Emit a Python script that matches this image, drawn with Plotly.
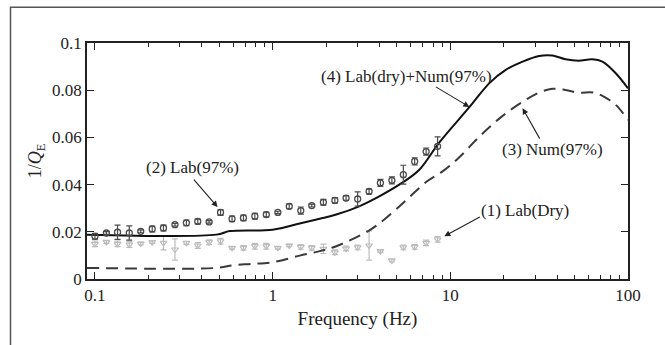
import plotly.graph_objects as go
import numpy as np

# ---- data ----
freq_lab = [0.100, 0.116, 0.134, 0.156, 0.181, 0.210, 0.243, 0.282, 0.327, 0.379,
            0.439, 0.509, 0.591, 0.685, 0.794, 0.921, 1.07, 1.24, 1.44, 1.66,
            1.93, 2.24, 2.59, 3.01, 3.49, 4.04, 4.69, 5.44, 6.30, 7.31, 8.48]

lab97 = [0.0181, 0.0195, 0.0198, 0.0195, 0.0202, 0.0212, 0.0216, 0.0230, 0.0238, 0.0244,
         0.0242, 0.0282, 0.0255, 0.0259, 0.0266, 0.0273, 0.0282, 0.0308, 0.0290, 0.0311,
         0.0325, 0.0333, 0.0343, 0.0339, 0.0371, 0.0407, 0.0418, 0.0442, 0.0498, 0.0540, 0.0562]
lab97_err = [0.0012, 0.0006, 0.0030, 0.0030, 0.0006, 0.0012, 0.0012, 0.0006, 0.0012, 0.0010,
             0.0005, 0.0012, 0.0012, 0.0012, 0.0012, 0.0010, 0.0005, 0.0010, 0.0015, 0.0006,
             0.0012, 0.0012, 0.0010, 0.0030, 0.0010, 0.0015, 0.0015, 0.0040, 0.0015, 0.0015, 0.0040]

lab_dry = [0.0149, 0.0157, 0.0149, 0.0146, 0.0150, 0.0156, 0.0153, 0.0125, 0.0153, 0.0142,
           0.0156, 0.0160, 0.0132, 0.0132, 0.0139, 0.0139, 0.0132, 0.0142, 0.0136, 0.0132,
           0.0128, 0.0113, 0.0129, 0.0134, 0.0142, 0.0118, 0.0078, 0.0134, 0.0136, 0.0153, 0.0168]
lab_dry_err = [0.0012, 0.0006, 0.0012, 0.0012, 0.0006, 0.0005, 0.0030, 0.0045, 0.0006, 0.0012,
               0.0010, 0.0012, 0.0005, 0.0010, 0.0012, 0.0012, 0.0005, 0.0005, 0.0010, 0.0010,
               0.0020, 0.0010, 0.0010, 0.0010, 0.0062, 0.0005, 0.0006, 0.0010, 0.0010, 0.0012, 0.0012]

freq_sum = [0.090, 0.483, 0.574, 1.00, 1.42, 1.84, 2.28, 3.07, 3.98, 5.34, 6.69,
            8.70, 12.8, 16.6, 20.5, 25.5, 31.6, 37.6, 44.5, 52.7, 62.9, 71.8, 85.3, 100.0]
lab_num = [0.0188, 0.0188, 0.0203, 0.0209, 0.0235, 0.0255, 0.0273, 0.0308, 0.0350, 0.0407,
           0.0463, 0.0580, 0.0728, 0.0830, 0.0886, 0.0921, 0.0945, 0.0947, 0.0931,
           0.0925, 0.0931, 0.0921, 0.0872, 0.0808]

freq_num = [0.090, 0.483, 0.600, 0.75, 1.00, 1.42, 1.84, 2.28, 3.43, 4.25, 5.68, 7.40,
            9.00, 11.2, 14.6, 19.3, 25.2, 31.6, 37.6, 44.5, 52.7, 64.0, 73.0, 85.3, 100.0]
num97 = [0.0047, 0.0047, 0.0058, 0.0064, 0.0071, 0.0099, 0.0118, 0.0139, 0.0202, 0.0252,
         0.0336, 0.0414, 0.0455, 0.0515, 0.0604, 0.0686, 0.0748, 0.0790, 0.0806, 0.0801,
         0.0790, 0.0790, 0.0773, 0.0738, 0.0674]

x_tick_vals = [0.1, 1, 10, 100]
x_tick_text = ["0.1", "1", "10", "100"]
y_tick_vals = [0, 0.02, 0.04, 0.06, 0.08, 0.1]
y_tick_text = ["0", "0.02", "0.04", "0.06", "0.08", "0.1"]

FONT = "Liberation Serif, Times New Roman, serif"

fig = go.Figure()

fig.add_trace(go.Scatter(
    x=freq_lab, y=lab_dry, mode="markers",
    marker=dict(symbol="triangle-down-open", size=6, color="#bdbdbd", line=dict(width=1.2)),
    error_y=dict(type="data", array=lab_dry_err, visible=True, color="#bdbdbd", thickness=1.2, width=3),
    showlegend=False))

fig.add_trace(go.Scatter(
    x=freq_num, y=num97, mode="lines", line_shape="spline",
    line=dict(color="#3a3a3a", width=2, dash="12px,7px"), showlegend=False))

fig.add_trace(go.Scatter(
    x=freq_sum, y=lab_num, mode="lines", line_shape="spline",
    line=dict(color="#111111", width=2), showlegend=False))

fig.add_trace(go.Scatter(
    x=freq_lab, y=lab97, mode="markers",
    marker=dict(symbol="circle-open", size=6, color="#4a4a4a", line=dict(width=1.3)),
    error_y=dict(type="data", array=lab97_err, visible=True, color="#4a4a4a", thickness=1.2, width=3),
    showlegend=False))

minor_vals = [m * d for d in (0.1, 1, 10) for m in range(2, 10)]

fig.update_xaxes(
    type="log", range=[np.log10(0.0902), np.log10(100)], automargin=False,
    tickvals=x_tick_vals, ticktext=x_tick_text,
    ticks="inside", ticklen=7, tickwidth=1.2, tickcolor="#222",
    minor=dict(tickvals=minor_vals, ticks="inside", ticklen=4, tickwidth=1, tickcolor="#222", showgrid=False),
    showline=True, linecolor="#222", linewidth=1.5, mirror="allticks",
    showgrid=False, zeroline=False,
    tickfont=dict(family=FONT, size=17, color="#222"),
    title=dict(text="Frequency (Hz)", font=dict(family=FONT, size=19, color="#222"), standoff=8))

fig.update_yaxes(
    range=[0, 0.1], tickvals=y_tick_vals, ticktext=y_tick_text, automargin=False,
    ticks="inside", ticklen=7, tickwidth=1.2, tickcolor="#222",
    showline=True, linecolor="#222", linewidth=1.5, mirror="allticks",
    showgrid=False, zeroline=False,
    tickfont=dict(family=FONT, size=17, color="#222"),
    title=dict(text="1/<i>Q</i><sub>E</sub>", font=dict(family=FONT, size=18, color="#222"), standoff=6))

# annotation positions (label centre, arrow tip, tail offset in px)
labels = [
    ("(2) Lab(97%)", 0.353, 0.0471, 0.49, 0.0305, -25, -29),
    ("(4) Lab(dry)+Num(97%)", 5.66, 0.0856, 12.8, 0.0729, -35, -21),
    ("(3) Num(97%)", 37.4, 0.0548, 25.5, 0.0724, 18, 32),
    ("(1) Lab(Dry)", 26.4, 0.0291, 9.25, 0.0181, 37, -20),
]
for text, tx, ty, hx, hy, ax, ay in labels:
    fig.add_annotation(x=np.log10(tx), y=ty, text=text, showarrow=False,
                       font=dict(family=FONT, size=17, color="#222"))
    fig.add_annotation(x=np.log10(hx), y=hy, text="", showarrow=True,
                       ax=ax, ay=ay, arrowhead=2, arrowsize=1.1, arrowwidth=1.1,
                       arrowcolor="#222")

# outer frame
fig.add_shape(type="rect", xref="paper", yref="paper",
              x0=-0.1414, y0=-0.6, x1=1.3, y1=1.152,
              line=dict(color="#555", width=1.5), layer="above")

fig.update_layout(
    width=665, height=345,
    margin=dict(l=87, r=37, t=43, b=65.5),
    paper_bgcolor="white", plot_bgcolor="white",
    font=dict(family=FONT, color="#222"),
)

fig.write_html("out.html", config={"displayModeBar": False},
               post_script="document.body.style.margin='0';document.body.style.overflow='hidden';")
